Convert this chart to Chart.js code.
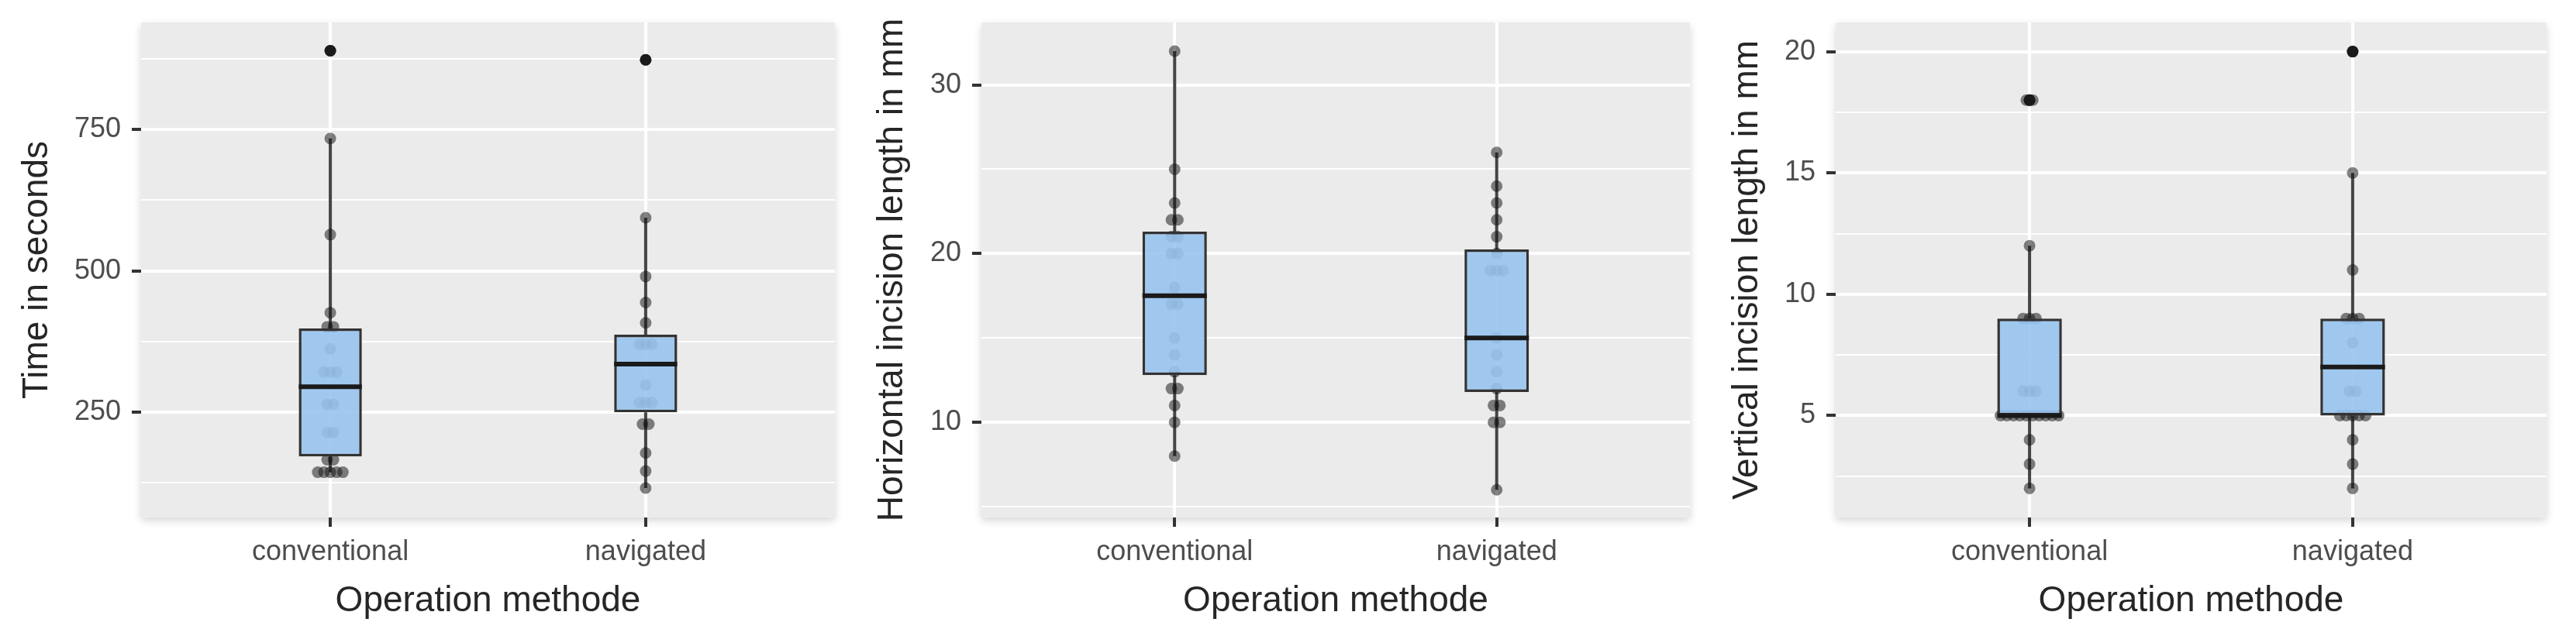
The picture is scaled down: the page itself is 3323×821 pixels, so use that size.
<!DOCTYPE html>
<html>
<head>
<meta charset="utf-8">
<script src="https://cdn.jsdelivr.net/npm/chart.js@4/dist/chart.umd.min.js"></script>
<style>
  html, body { margin: 0; padding: 0; background: #fff; }
  body { width: 3323px; height: 821px; position: relative; overflow: hidden; }
  canvas { position: absolute; top: 0; }
</style>
</head>
<body>
<canvas id="timeChart" width="1095" height="821" style="left:0px"></canvas>
<canvas id="horizChart" width="1100" height="821" style="left:1095px"></canvas>
<canvas id="vertChart" width="1128" height="821" style="left:2195px"></canvas>
<script>
const groups = ['conventional', 'navigated'];

// Time in seconds
const timeConventional = [889, 734, 564, 426, 401, 401, 362, 321, 321, 321, 264, 264, 214, 214, 166, 166, 144, 144, 144, 144, 144];
const timeNavigated = [873, 594, 490, 444, 408, 370, 370, 370, 298, 267, 267, 267, 229, 229, 178, 146, 116];
// box stats: [lower whisker, q1, median, q3, upper whisker]
const timeBoxConventional = [144, 172, 295, 398, 734];
const timeBoxNavigated = [116, 250, 335, 387, 594];
const timeOutliersConventional = [889];
const timeOutliersNavigated = [873];
const timeTicks = [250, 500, 750];
const timeRange = [64, 939];

// Horizontal incision length in mm
const horizConventional = [32, 25, 23, 22, 22, 21, 21, 20, 20, 18, 17, 17, 15, 14, 13, 12, 12, 11, 10, 8];
const horizNavigated = [26, 24, 23, 22, 21, 20, 19, 19, 19, 15, 14, 13, 12, 11, 11, 10, 10, 6];
const horizBoxConventional = [8, 12.8, 17.5, 21.3, 32];
const horizBoxNavigated = [6, 11.8, 15, 20.25, 26];
const horizOutliersConventional = [];
const horizOutliersNavigated = [];
const horizTicks = [10, 20, 30];
const horizRange = [4.36, 33.7];

// Vertical incision length in mm
const vertConventional = [18, 18, 12, 9, 9, 9, 6, 6, 6, 5, 5, 5, 5, 5, 5, 5, 5, 5, 5, 4, 3, 2];
const vertNavigated = [20, 15, 11, 9, 9, 9, 8, 6, 6, 5, 5, 5, 5, 5, 4, 3, 2];
const vertBoxConventional = [2, 5, 5, 9, 12];
const vertBoxNavigated = [2, 5, 7, 9, 15];
const vertOutliersConventional = [18, 18];
const vertOutliersNavigated = [20];
const vertTicks = [5, 10, 15, 20];
const vertRange = [0.8, 21.2];

const DOT_STEP = 0.02;  // spacing of stacked dots (x units)
const BOX_HALF = 0.1;   // half box width (x units)
const FONT = "'Liberation Sans', Arial, sans-serif";

// spread equal values side by side like a dotplot
const dodge = (values, pos) => {
    const counts = {};
    const seen = {};
    values.forEach(v => { counts[v] = (counts[v] || 0) + 1; });
    return values.map(v => {
        seen[v] = seen[v] === undefined ? 0 : seen[v] + 1;
        return { x: pos + (seen[v] - (counts[v] - 1) / 2) * DOT_STEP, y: v };
    });
};

const panelBackground = {
    id: 'panelBackground',
    beforeDraw(chart) {
        const { ctx, chartArea: a } = chart;
        ctx.save();
        ctx.shadowColor = 'rgba(0,0,0,0.16)';
        ctx.shadowBlur = 10;
        ctx.shadowOffsetY = 4;
        ctx.fillStyle = '#EBEBEB';
        ctx.fillRect(a.left, a.top, a.right - a.left, a.bottom - a.top);
        ctx.restore();
    }
};

const makeChart = (id, cfg) => {
    const boxes = [cfg.boxConv, cfg.boxNav];
    const step = cfg.ticks[1] - cfg.ticks[0];
    const gridValues = [];
    for (let v = cfg.ticks[0] - step / 2; v < cfg.range[1]; v += step / 2) {
        if (v > cfg.range[0]) gridValues.push(v);
    }
    const isMajor = v => cfg.ticks.includes(v);

    const whiskers = [];
    const medians = [];
    boxes.forEach((b, i) => {
        const x = i + 1;
        whiskers.push({ x, y: b[0] }, { x, y: b[1] }, { x, y: null }, { x, y: b[3] }, { x, y: b[4] }, { x, y: null });
        medians.push({ x: x - BOX_HALF, y: b[2] }, { x: x + BOX_HALF, y: b[2] }, { x, y: null });
    });

    return new Chart(document.getElementById(id), {
        type: 'scatter',
        data: {
            datasets: [
                {
                    type: 'scatter',
                    data: cfg.outConv.map(v => ({ x: 1, y: v })).concat(cfg.outNav.map(v => ({ x: 2, y: v }))),
                    backgroundColor: '#1a1a1a',
                    borderWidth: 0,
                    pointRadius: 7.5,
                    order: 0
                },
                {
                    type: 'line',
                    data: medians,
                    borderColor: '#1a1a1a',
                    borderWidth: 6,
                    pointRadius: 0,
                    spanGaps: false,
                    order: 1
                },
                {
                    type: 'bar',
                    data: boxes.map((b, i) => ({ x: i + 1, y: [b[1], b[3]] })),
                    backgroundColor: 'rgba(152,196,240,0.9)',
                    borderColor: '#333333',
                    borderWidth: 3.5,
                    borderSkipped: false,
                    barPercentage: 0.2,
                    categoryPercentage: 1,
                    order: 2
                },
                {
                    type: 'scatter',
                    data: dodge(cfg.conv, 1).concat(dodge(cfg.nav, 2)),
                    backgroundColor: 'rgba(20,20,20,0.52)',
                    borderWidth: 0,
                    pointRadius: 7.5,
                    order: 3
                },
                {
                    type: 'line',
                    data: whiskers,
                    borderColor: '#454545',
                    borderWidth: 4,
                    pointRadius: 0,
                    spanGaps: false,
                    order: 4
                }
            ]
        },
        options: {
            responsive: false,
            animation: false,
            events: [],
            layout: { padding: { left: 0, top: 29, right: cfg.padRight, bottom: 0 } },
            plugins: { legend: { display: false }, tooltip: { enabled: false } },
            scales: {
                x: {
                    type: 'linear',
                    min: 0.4,
                    max: 2.6,
                    offset: false,
                    border: { display: false },
                    grid: {
                        offset: false,
                        color: '#FFFFFF',
                        lineWidth: 4,
                        tickColor: '#333333',
                        tickLength: 12,
                        tickWidth: 4
                    },
                    ticks: {
                        color: '#4D4D4D',
                        font: { family: FONT, size: 36 },
                        padding: 11,
                        maxRotation: 0,
                        callback: v => groups[v - 1]
                    },
                    afterBuildTicks: s => { s.ticks = [1, 2].map(v => ({ value: v })); },
                    afterFit: s => { s.height = 153; s.paddingLeft = 0; s.paddingRight = 0; },
                    title: {
                        display: true,
                        text: 'Operation methode',
                        color: '#262626',
                        font: { family: FONT, size: 46 },
                        padding: { top: 0, bottom: 17 }
                    }
                },
                y: {
                    type: 'linear',
                    min: cfg.range[0],
                    max: cfg.range[1],
                    beginAtZero: false,
                    border: { display: false },
                    grid: {
                        color: '#FFFFFF',
                        lineWidth: c => isMajor(c.tick.value) ? 4 : 2,
                        tickColor: c => isMajor(c.tick.value) ? '#333333' : 'rgba(0,0,0,0)',
                        tickLength: 12,
                        tickWidth: 4
                    },
                    ticks: {
                        color: '#4D4D4D',
                        font: { family: FONT, size: 36 },
                        padding: 14,
                        callback: v => isMajor(v) ? String(v) : ''
                    },
                    afterBuildTicks: s => { s.ticks = gridValues.map(v => ({ value: v })); },
                    afterFit: s => { s.width = cfg.axisWidth; s.paddingTop = 0; s.paddingBottom = 0; },
                    title: {
                        display: true,
                        text: cfg.title,
                        color: '#262626',
                        font: { family: FONT, size: 46 },
                        padding: { top: cfg.titlePad, bottom: 0 }
                    }
                }
            }
        },
        plugins: [panelBackground]
    });
};

makeChart('timeChart', {
    conv: timeConventional, nav: timeNavigated,
    boxConv: timeBoxConventional, boxNav: timeBoxNavigated,
    outConv: timeOutliersConventional, outNav: timeOutliersNavigated,
    ticks: timeTicks, range: timeRange,
    title: 'Time in seconds',
    axisWidth: 182, padRight: 18, titlePad: 20.4
});

makeChart('horizChart', {
    conv: horizConventional, nav: horizNavigated,
    boxConv: horizBoxConventional, boxNav: horizBoxNavigated,
    outConv: horizOutliersConventional, outNav: horizOutliersNavigated,
    ticks: horizTicks, range: horizRange,
    title: 'Horizontal incision length in mm',
    axisWidth: 171, padRight: 15, titlePad: 28.4
});

makeChart('vertChart', {
    conv: vertConventional, nav: vertNavigated,
    boxConv: vertBoxConventional, boxNav: vertBoxNavigated,
    outConv: vertOutliersConventional, outNav: vertOutliersNavigated,
    ticks: vertTicks, range: vertRange,
    title: 'Vertical incision length in mm',
    axisWidth: 173, padRight: 38, titlePad: 31.4
});
</script>
</body>
</html>
